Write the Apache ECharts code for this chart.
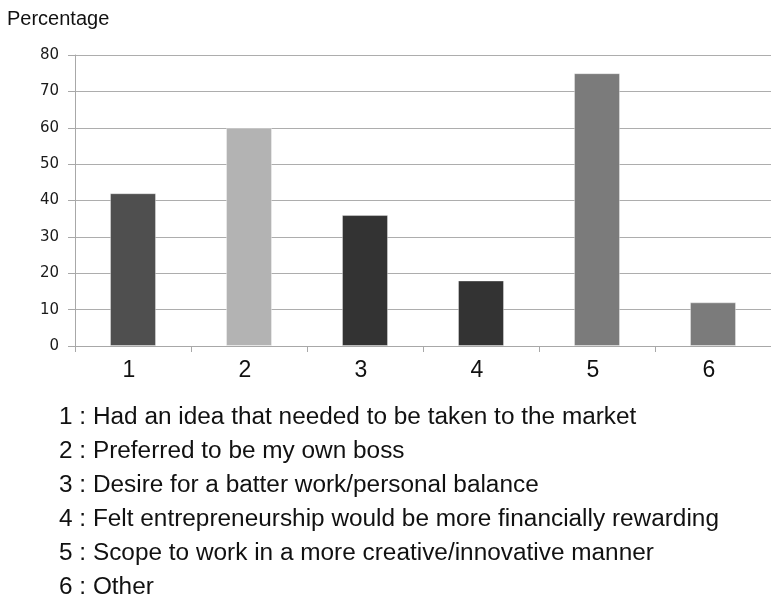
<!DOCTYPE html>
<html>
<head>
<meta charset="utf-8">
<title>Reasons for starting a business</title>
<script src="https://cdn.jsdelivr.net/npm/echarts@6/dist/echarts.min.js"></script>
<style>
  html, body { margin: 0; padding: 0; background: #ffffff; }
  #chart { width: 771px; height: 596px; }
</style>
</head>
<body>
<div id="chart"></div>
<script>
// Survey categories and the share of respondents for each
const categories = ['1', '2', '3', '4', '5', '6'];
const percentages = [42, 60, 36, 18, 75, 12];
const barColors = ['#4f4f4f', '#b3b3b3', '#333333', '#333333', '#7b7b7b', '#7b7b7b'];
const yTicks = [0, 10, 20, 30, 40, 50, 60, 70, 80];
const reasons = [
  'Had an idea that needed to be taken to the market',
  'Preferred to be my own boss',
  'Desire for a batter work/personal balance',
  'Felt entrepreneurship would be more financially rewarding',
  'Scope to work in a more creative/innovative manner',
  'Other'
];
const yTitle = 'Percentage';

const chart = echarts.init(document.getElementById('chart'), null, { renderer: 'canvas' });

// Key below the plot: "n : reason"
const keyLines = reasons.map((r, i) => ({
  type: 'text',
  x: 59,
  y: 418 + i * 34,
  scaleX: 1.06,
  style: {
    text: categories[i] + ' : ' + r,
    font: '23px "Liberation Sans", Arial, sans-serif',
    fill: '#111111',
    textAlign: 'left',
    textVerticalAlign: 'middle'
  }
}));

chart.setOption({
  animation: false,
  backgroundColor: '#ffffff',
  grid: { left: 75, right: -7, top: 55, height: 291, containLabel: false },
  xAxis: {
    type: 'category',
    data: categories,
    boundaryGap: true,
    axisLine: { show: true, lineStyle: { color: '#a8a8a8', width: 1 } },
    axisTick: { show: true, length: 6, lineStyle: { color: '#a8a8a8' } },
    axisLabel: {
      margin: 13,
      color: '#111111',
      fontSize: 23,
      fontFamily: '"Liberation Sans", Arial, sans-serif',
      padding: [0, 8, 0, 0]
    },
    splitLine: { show: false }
  },
  yAxis: {
    type: 'value',
    min: yTicks[0],
    max: yTicks[yTicks.length - 1],
    interval: yTicks[1] - yTicks[0],
    axisLine: { show: true, lineStyle: { color: '#a8a8a8', width: 1 } },
    axisTick: { show: true, length: 7, lineStyle: { color: '#a8a8a8' } },
    axisLabel: {
      margin: 16,
      color: '#1a1a1a',
      fontSize: 15,
      fontFamily: '"DejaVu Sans", sans-serif'
    },
    splitLine: { show: true, lineStyle: { color: '#adadad', width: 1 } }
  },
  series: [{
    type: 'bar',
    barWidth: 46,
    data: percentages.map((v, i) => ({
      value: v,
      itemStyle: { color: barColors[i], borderColor: 'rgba(255,255,255,0.35)', borderWidth: 1 }
    })),
    label: { show: false }
  }],
  graphic: [
    {
      type: 'text',
      x: 7,
      y: 19.5,
      style: {
        text: yTitle,
        font: '20px "Liberation Sans", Arial, sans-serif',
        fill: '#111111',
        textAlign: 'left',
        textVerticalAlign: 'middle'
      }
    }
  ].concat(keyLines)
});
</script>
</body>
</html>
